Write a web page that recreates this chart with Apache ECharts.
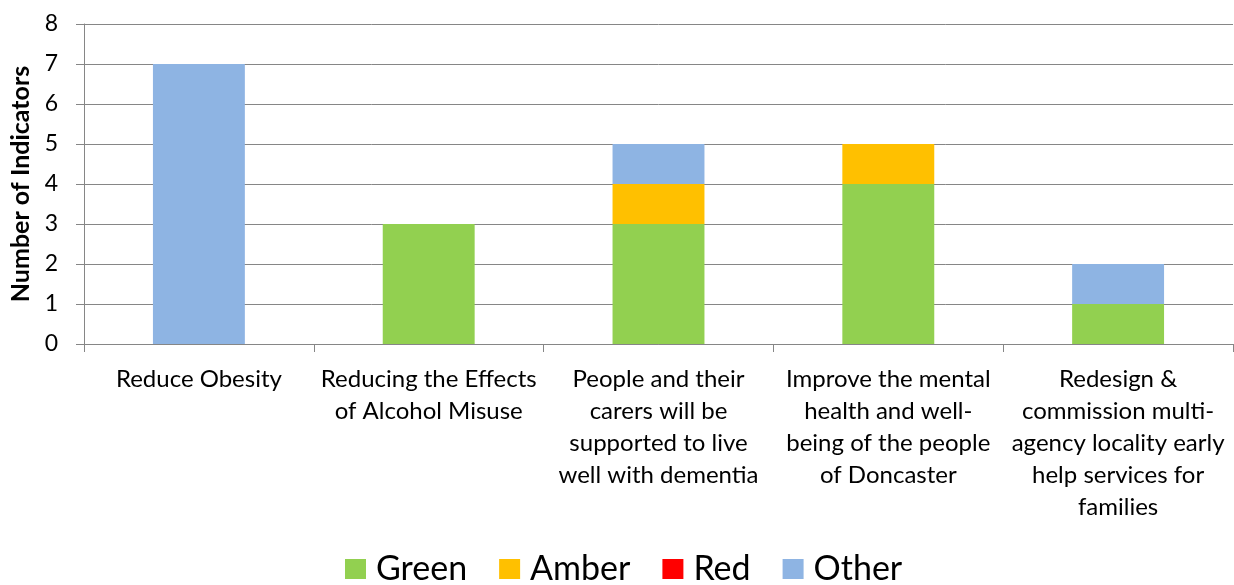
<!DOCTYPE html>
<html>
<head>
<meta charset="utf-8">
<script src="https://cdn.jsdelivr.net/npm/echarts@6/dist/echarts.min.js"></script>
<style>
  html, body { margin: 0; padding: 0; background: #fff; }
  #chart { width: 1234px; height: 585px; }
</style>
</head>
<body>
<div id="chart"></div>
<script>
// categories (line breaks as in the original)
const categories = [
  'Reduce Obesity',
  'Reducing the Effects\nof Alcohol Misuse',
  'People and their\ncarers will be\nsupported to live\nwell with dementia',
  'Improve the mental\nhealth and well-\nbeing of the people\nof Doncaster',
  'Redesign &\ncommission multi-\nagency locality early\nhelp services for\nfamilies',
];
const greenValues = [0, 3, 3, 4, 1];
const amberValues = [0, 0, 1, 1, 0];
const redValues = [0, 0, 0, 0, 0];
const otherValues = [7, 0, 1, 0, 1];
const yTicks = [0, 1, 2, 3, 4, 5, 6, 7, 8];

const font = 'Lato, "Open Sans", sans-serif';

var chart = echarts.init(document.getElementById('chart'));

function stackSeries(name, data, color) {
  return {
    name: name,
    type: 'bar',
    stack: 'total',
    data: data,
    barWidth: '40%',
    itemStyle: { color: color },
  };
}

chart.setOption({
  backgroundColor: '#fff',
  animation: false,
  grid: {
    left: 84,
    right: 1,
    top: 24,
    bottom: 241,
    containLabel: false,
  },
  legend: {
    bottom: -6,
    left: 340,
    itemWidth: 21,
    itemHeight: 20,
    itemGap: 32,
    icon: 'rect',
    textStyle: {
      fontFamily: font,
      fontSize: 34,
      color: '#000',
      padding: [0, 0, 0, 5],
    },
    data: ['Green', 'Amber', 'Red', 'Other'],
  },
  xAxis: {
    type: 'category',
    data: categories,
    axisLine: { lineStyle: { color: '#868686', width: 1 } },
    axisTick: { show: true, alignWithLabel: false, length: 8, lineStyle: { color: '#868686' } },
    axisLabel: {
      interval: 0,
      margin: 19,
      fontFamily: font,
      fontSize: 24,
      lineHeight: 32,
      color: '#000',
    },
  },
  yAxis: {
    type: 'value',
    min: yTicks[0],
    max: yTicks[yTicks.length - 1],
    interval: 1,
    name: 'Number of Indicators',
    nameLocation: 'middle',
    nameGap: 48,
    nameTextStyle: { fontFamily: font, fontSize: 25, fontWeight: 'bold', color: '#000' },
    axisLine: { show: true, lineStyle: { color: '#868686' } },
    axisTick: { show: true, length: 8, lineStyle: { color: '#868686' } },
    axisLabel: { fontFamily: font, fontSize: 23, color: '#000', margin: 26 },
    splitLine: { lineStyle: { color: '#868686', width: 1 } },
  },
  series: [
    stackSeries('Green', greenValues, '#92D050'),
    stackSeries('Amber', amberValues, '#FFC000'),
    stackSeries('Red', redValues, '#FF0000'),
    stackSeries('Other', otherValues, '#8EB4E3'),
  ],
});
</script>
</body>
</html>
